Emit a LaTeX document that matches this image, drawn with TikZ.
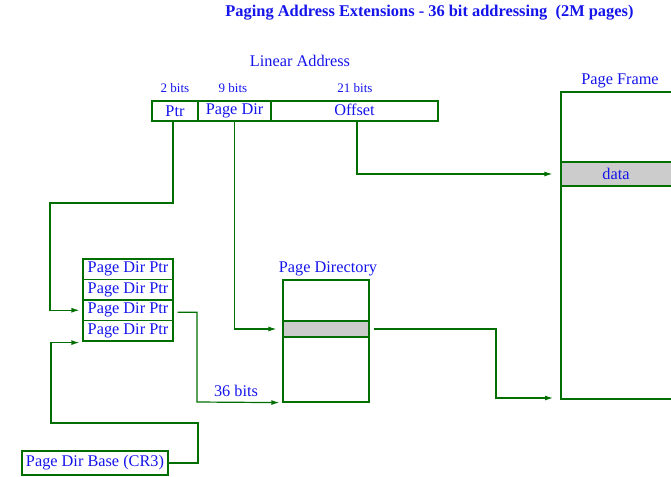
\documentclass[tikz,border=0pt]{standalone}
\usepackage{fontspec}
\setmainfont{Liberation Serif}
\usetikzlibrary{arrows.meta}
\definecolor{lineg}{RGB}{0,110,0}
\definecolor{txtb}{RGB}{20,20,235}
\definecolor{band}{RGB}{204,204,204}
\tikzset{
  every node/.style={text=txtb, font=\fontsize{16.3}{19}\selectfont},
  field/.style={draw=lineg, line width=1.2pt, inner sep=0pt, anchor=center},
  lbl/.style={inner sep=0pt, anchor=center},
  small/.style={lbl, font=\fontsize{13}{15}\selectfont},
  arr/.style={draw=lineg, line width=1.2pt, -{Latex[length=8pt,width=5pt]}},
  plain/.style={draw=lineg, line width=1.2pt},
}
\begin{document}
\begin{tikzpicture}[x=1pt,y=-1pt]
\useasboundingbox (0,0) rectangle (671,476);
% title
\node[lbl, font=\bfseries\fontsize{16.4}{19}\selectfont] (title) at (429.5,13) {Paging Address Extensions - 36 bit addressing\ \ (2M pages)};
% linear address
\node[lbl] (lin) at (300,61) {Linear Address};
\node[small] (b2) at (175,88) {2 bits};
\node[small] (b9) at (233,88) {9 bits};
\node[small] (b21) at (355,88) {21 bits};
\node[field, minimum width=46pt, minimum height=20pt] (ptr) at (175,111) {Ptr};
\node[field, minimum width=73pt, minimum height=20pt] (pdir) at (234.5,111) {Page Dir\vphantom{p}};
\node[field, minimum width=167pt, minimum height=20pt] (off) at (354.5,111) {Offset\vphantom{p}};
% page dir ptr stack
\node[field, minimum width=90pt, minimum height=20.5pt] (pdp1) at (128,269.25) {Page Dir Ptr};
\node[field, minimum width=90pt, minimum height=20.5pt] (pdp2) at (128,289.75) {Page Dir Ptr};
\node[field, minimum width=90pt, minimum height=20.5pt] (pdp3) at (128,310.25) {Page Dir Ptr};
\node[field, minimum width=90pt, minimum height=20.5pt] (pdp4) at (128,330.75) {Page Dir Ptr};
% CR3
\node[field, minimum width=146pt, minimum height=24pt] (cr3) at (95,463) {Page Dir Base (CR3)};
% page directory
\node[lbl] (pdlbl) at (328,269) {Page Directory};
\node[field, minimum width=86pt, minimum height=122pt] (pd) at (326,341) {};
\node[field, fill=band, minimum width=86pt, minimum height=16pt] (pdentry) at (326,329) {};
% page frame
\node[lbl] (pflbl) at (620,81) {Page Frame};
\node[field, draw=none, fill=band, minimum width=110pt, minimum height=24pt] (data) at (616,174) {data};
\draw[plain] (675,162) -- (561,162) (561,186) -- (675,186);
\coordinate (pftl) at (561,92);
\coordinate (pfbl) at (561,399);
\draw[plain] (675,92) -- (pftl) -- (pfbl) -- (675,399);
% connectors
\coordinate (a1) at (50,203);
\draw[arr] ([xshift=-2pt]ptr.south) |- (a1) |- ([xshift=-3pt]pdp3.west);
\draw[arr] (pdir.south) |- ([xshift=-6pt]pdentry.west);
\draw[arr] ([xshift=2.5pt]off.south) |- ([xshift=-8pt]data.west);
\coordinate (c1) at (197,402);
\draw[arr] ([xshift=4pt,yshift=-2pt]pdp3.east) -| (c1) -- ([xshift=-3pt]pd.south west);
\node[lbl] (b36) at (236,391) {36 bits};
\coordinate (c2) at (496,398);
\draw[arr] ([xshift=4pt]pdentry.east) -| (c2) -- ([xshift=-8pt]c2 -| pfbl);
\coordinate (c3) at (198,423);
\coordinate (c4) at (51,423);
\draw[arr] (cr3.east) -| (c3) -- (c4) |- ([xshift=-3pt,yshift=-1pt]pdp4.south west);
\end{tikzpicture}
\end{document}
